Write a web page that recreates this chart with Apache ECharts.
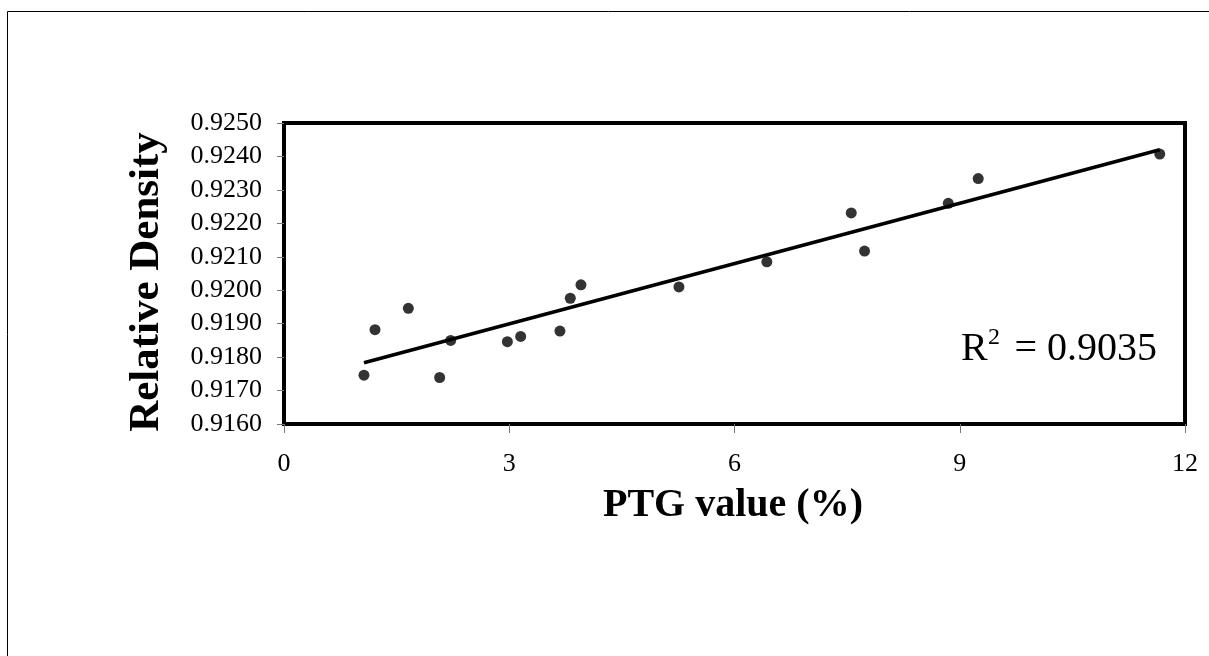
<!DOCTYPE html>
<html>
<head>
<meta charset="utf-8">
<script src="https://cdn.jsdelivr.net/npm/echarts@6/dist/echarts.min.js"></script>
<style>
  html, body { margin: 0; padding: 0; background: #fff; }
  #chart { width: 1209px; height: 656px; }
</style>
</head>
<body>
<div id="chart"></div>
<script>
// PTG value (%) vs relative density measurements
const ptgValues = [1.065, 1.212, 1.656, 2.073, 2.220, 2.975, 3.152, 3.675, 3.813, 3.955,
                   5.260, 6.431, 7.555, 7.732, 8.847, 9.246, 11.664];
const densities = [0.91746, 0.91882, 0.91946, 0.91739, 0.91850, 0.91846, 0.91862, 0.91878,
                   0.91976, 0.92016, 0.92010, 0.92085, 0.92231, 0.92117, 0.92260, 0.92334, 0.92407];
const xTicks = [0, 3, 6, 9, 12];
const yTicks = [0.9160, 0.9170, 0.9180, 0.9190, 0.9200, 0.9210, 0.9220, 0.9230, 0.9240, 0.9250];
const rSquaredText = '0.9035';

const FONT = "'Liberation Serif', 'Times New Roman', serif";

// least-squares linear trend across the data range
function linearFit(xs, ys) {
  const n = xs.length;
  const mx = xs.reduce((a, b) => a + b, 0) / n;
  const my = ys.reduce((a, b) => a + b, 0) / n;
  let sxy = 0, sxx = 0;
  for (let i = 0; i < n; i++) {
    sxy += (xs[i] - mx) * (ys[i] - my);
    sxx += (xs[i] - mx) * (xs[i] - mx);
  }
  const slope = sxy / sxx;
  return { slope, intercept: my - slope * mx };
}
const fit = linearFit(ptgValues, densities);
const xMin = Math.min(...ptgValues), xMax = Math.max(...ptgValues);
const trend = [[xMin, fit.intercept + fit.slope * xMin], [xMax, fit.intercept + fit.slope * xMax]];

const points = ptgValues.map((x, i) => [x, densities[i]]);

const chart = echarts.init(document.getElementById('chart'), null, { renderer: 'canvas' });
chart.setOption({
  backgroundColor: '#fff',
  animation: false,
  grid: {
    left: 284, right: 24, top: 123, bottom: 232,
    show: true, borderColor: '#000', borderWidth: 4, backgroundColor: 'transparent'
  },
  xAxis: {
    type: 'value',
    min: xTicks[0], max: xTicks[xTicks.length - 1], interval: xTicks[1] - xTicks[0],
    splitLine: { show: false },
    axisLine: { show: false },
    axisTick: { show: true, length: 9, lineStyle: { color: '#777', width: 1 } },
    axisLabel: { margin: 27, fontFamily: FONT, fontSize: 26, color: '#000' }
  },
  yAxis: {
    type: 'value',
    min: yTicks[0], max: yTicks[yTicks.length - 1], interval: 0.001,
    splitLine: { show: false },
    axisLine: { show: false },
    axisTick: { show: true, length: 7, lineStyle: { color: '#777', width: 1 } },
    axisLabel: {
      margin: 22, fontFamily: FONT, fontSize: 26, color: '#000',
      formatter: v => v.toFixed(4)
    }
  },
  series: [
    {
      type: 'line', data: trend, symbol: 'none', silent: true,
      lineStyle: { color: '#000', width: 3.5 }, z: 2
    },
    {
      type: 'scatter', data: points, symbol: 'circle', symbolSize: 11,
      itemStyle: { color: '#000' }, z: 3
    }
  ],
  graphic: [
    {
      type: 'rect', silent: true,
      shape: { x: 7.5, y: 11.5, width: 1400, height: 1000 },
      style: { fill: 'none', stroke: '#000', lineWidth: 1 }
    },
    {
      type: 'text', x: 733, y: 506,
      style: { text: 'PTG value (%)', font: "bold 40px " + FONT, fill: '#000',
               textAlign: 'center', textVerticalAlign: 'middle' }
    },
    {
      type: 'text', x: 147, y: 282, rotation: Math.PI / 2,
      style: { text: 'Relative Density', font: "bold 43px " + FONT, fill: '#000',
               textAlign: 'center', textVerticalAlign: 'middle' }
    },
    {
      type: 'text', x: 961, y: 349,
      style: { text: 'R', font: "40px " + FONT, fill: '#000',
               textAlign: 'left', textVerticalAlign: 'middle' }
    },
    {
      type: 'text', x: 988, y: 338,
      style: { text: '2', font: "24px " + FONT, fill: '#000',
               textAlign: 'left', textVerticalAlign: 'middle' }
    },
    {
      type: 'text', x: 1157, y: 349,
      style: { text: '= ' + rSquaredText, font: "40px " + FONT, fill: '#000',
               textAlign: 'right', textVerticalAlign: 'middle' }
    }
  ]
});
</script>
</body>
</html>
